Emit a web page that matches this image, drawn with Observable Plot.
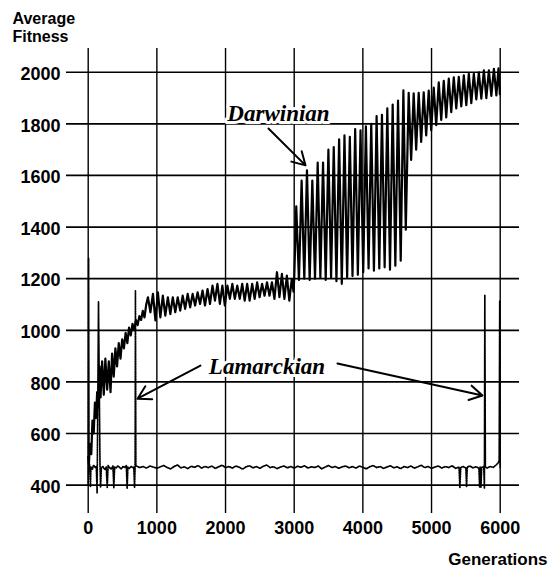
<!DOCTYPE html>
<html><head><meta charset="utf-8">
<script src="https://cdn.jsdelivr.net/npm/d3@7"></script>
<script src="https://cdn.jsdelivr.net/npm/@observablehq/plot@0.6"></script>
<style>body{margin:0;background:#fff}</style>
</head><body><div id="chart"></div>
<script>
// Darwinian run: generation and average fitness (peaks/troughs)
const darwinGen = [
  0,10,25,45,62,80,98,115,130,150,165,180,203,227,250,276,300,325,348,372,396,420,445,470,495,520,545,570,595,620,645,670,695,720,745,770,795,820,845,
  870,906,943,979,1015,1051,1087,1123,1160,1196,1232,1268,1304,1340,1376,1412,1449,1485,1521,1557,1593,1629,1665,1701,1738,1774,1810,1846,1882,1918,1954,1990,
  2027,2063,2099,2135,2171,2207,2243,2279,2315,2351,2388,2424,2460,2496,2532,2568,2604,2640,2676,2712,2749,2785,2821,2857,2893,2929,2965,2990,
  3000,3030,3069,3108,3147,3186,3225,3264,3303,3342,3381,3420,3459,3498,3537,3576,3615,3654,3693,3732,3771,3810,3849,3888,3927,3966,
  4005,4044,4083,4122,4161,4200,4239,4278,4317,4356,4395,4434,4473,4512,4551,4590,4625,
  4667,4703,4740,4776,4813,4849,4886,4922,4959,4995,5032,5068,5105,5141,5178,5214,5251,5287,5324,5360,5397,5433,5470,5506,5543,5579,5616,5652,5689,5725,5762,5798,5835,5871,5908,5944,5975,5995
];
const darwinFit = [
  510,480,560,520,650,600,720,660,760,700,860,740,880,750,890,770,880,760,910,820,930,860,950,890,965,930,990,950,1010,980,1025,1000,1040,1020,1055,1040,1075,1050,1100,
  1128,1070,1141,1038,1147,1050,1134,1057,1128,1063,1128,1070,1128,1076,1134,1083,1141,1089,1141,1096,1147,1102,1154,1096,1160,1102,1173,1115,1180,1102,1173,1096,
  1173,1122,1180,1122,1173,1122,1180,1115,1180,1115,1180,1122,1186,1128,1180,1134,1186,1134,1186,1122,1225,1128,1219,1122,1212,1115,1199,1150,
  1200,1480,1195,1580,1200,1620,1195,1580,1200,1650,1205,1650,1195,1700,1205,1710,1190,1740,1180,1755,1205,1750,1210,1780,1215,1775,
  1225,1790,1240,1800,1231,1830,1240,1835,1244,1860,1235,1875,1250,1890,1270,1930,1390,
  1920,1660,1918,1700,1920,1730,1922,1755,1929,1775,1940,1795,1961,1815,1967,1825,1975,1845,1980,1860,1982,1868,1988,1872,1994,1880,1994,1895,2000,1898,2007,1900,2007,1908,2013,1910,2015,1915
];
// Lamarckian run
const lamarckGen = [
  0,6,12,20,33,40,60,80,100,118,130,150,172,180,192,215,240,262,277,290,310,335,360,373,385,405,430,455,480,505,530,555,567,578,600,625,650,664,675,683,688,694,
  750,800,850,900,950,1000,1050,1100,1150,1200,1250,1300,1350,1400,1450,1500,1550,1600,1650,1700,1750,1800,1850,1900,1950,
  2000,2050,2100,2150,2200,2250,2300,2350,2400,2450,2500,2550,2600,2650,2700,2750,2800,2850,2900,2950,
  3000,3050,3100,3150,3200,3250,3300,3350,3400,3450,3500,3550,3600,3650,3700,3750,3800,3850,3900,3950,
  4000,4050,4100,4150,4200,4250,4300,4350,4400,4450,4500,4550,4600,4650,4700,4750,4800,4850,4900,4950,
  5000,5050,5100,5150,5200,5250,5300,5350,5400,5413,5425,5460,5500,5510,5520,5560,5600,5650,5690,5700,5708,5720,5730,5760,5770,5776,5784,5810,5850,5900,5940,5970,5985,5993,6000
];
const lamarckFit = [
  400,1280,470,480,395,470,462,478,468,472,370,1110,475,391,468,472,460,470,391,476,468,462,474,390,470,466,474,470,462,472,468,476,388,470,465,472,468,470,390,470,1155,475,
  468,472,466,474,470,465,471,476,468,463,472,478,467,471,464,473,469,476,466,472,468,474,465,471,477,
  468,472,466,474,469,462,471,475,467,472,465,473,478,468,471,464,470,474,467,472,
  466,473,469,475,466,471,468,474,463,470,476,468,472,465,471,474,467,472,466,474,
  469,463,471,476,468,472,465,470,475,467,471,464,472,468,474,466,471,477,468,472,
  465,470,474,466,472,468,475,465,470,391,468,472,466,393,470,474,467,471,466,393,470,392,468,472,388,1135,470,466,472,469,478,486,495,1115,470
];
const xTicks = [0,1000,2000,3000,4000,5000,6000];
const yTicks = [400,600,800,1000,1200,1400,1600,1800,2000];
const noteText = ["Darwinian","Lamarckian"];
const noteGen = [2771,2604];
const noteFit = [1840,859];
const arrowGen1 = [2625,1635,3630];
const arrowFit1 = [1782,863,871];
const arrowGen2 = [3165,718,5742];
const arrowFit2 = [1639,735,747];

const darwin = darwinGen.map((g,i)=>({gen:g, fit:darwinFit[i]}));
const lamarck = lamarckGen.map((g,i)=>({gen:g, fit:lamarckFit[i]}));
const notes = noteText.map((t,i)=>({text:t, gen:noteGen[i], fit:noteFit[i]}));
const arrows = arrowGen1.map((g,i)=>({x1:g, y1:arrowFit1[i], x2:arrowGen2[i], y2:arrowFit2[i]}));

const chart = Plot.plot({
  width: 548, height: 570,
  marginLeft: 66, marginRight: 29, marginTop: 48, marginBottom: 57,
  style: {fontFamily: "'Liberation Sans', Arial, sans-serif", fontSize: "17px", fontWeight: "bold", background: "white", color: "black"},
  x: {domain: [-316, 6281], label: null},
  y: {domain: [290, 2092], label: null},
  marks: [
    Plot.ruleY(yTicks, {stroke: "black", strokeWidth: 1.7}),
    Plot.ruleX(xTicks, {stroke: "black", strokeWidth: 1.4}),
    Plot.axisY(yTicks, {tickSize: 0, tickPadding: 6, fontSize: 18, dy: 2, label: null, tickFormat: d => String(d)}),
    Plot.axisX(xTicks, {tickSize: 0, tickPadding: 8, fontSize: 18, label: null, tickFormat: d => String(d)}),
    Plot.line(lamarck, {x: "gen", y: "fit", stroke: "black", strokeWidth: 1.7, strokeDasharray: "1.3,1.2"}),
    Plot.line(darwin, {x: "gen", y: "fit", stroke: "black", strokeWidth: 2.2, strokeLinejoin: "round"}),
    Plot.arrow(arrows, {x1: "x1", y1: "y1", x2: "x2", y2: "y2", stroke: "black", strokeWidth: 2, headLength: 11}),
    Plot.text(notes, {x: "gen", y: "fit", text: "text", fontFamily: "'Liberation Serif', 'Times New Roman', serif", fontStyle: "italic", fontWeight: "bold", fontSize: 23, fill: "black", stroke: "white", strokeWidth: 6, lineAnchor: "middle"}),
    Plot.text(["Average\nFitness"], {frameAnchor: "top-left", dx: -54, dy: -37, lineAnchor: "top", textAnchor: "start", fontSize: 16, lineHeight: 1.12, fill: "black"}),
    Plot.text(["Generations"], {frameAnchor: "bottom-right", dx: 28, dy: 46, textAnchor: "end", lineAnchor: "middle", fontSize: 17, fill: "black"})
  ]
});
document.getElementById("chart").appendChild(chart);
</script>
</body></html>
